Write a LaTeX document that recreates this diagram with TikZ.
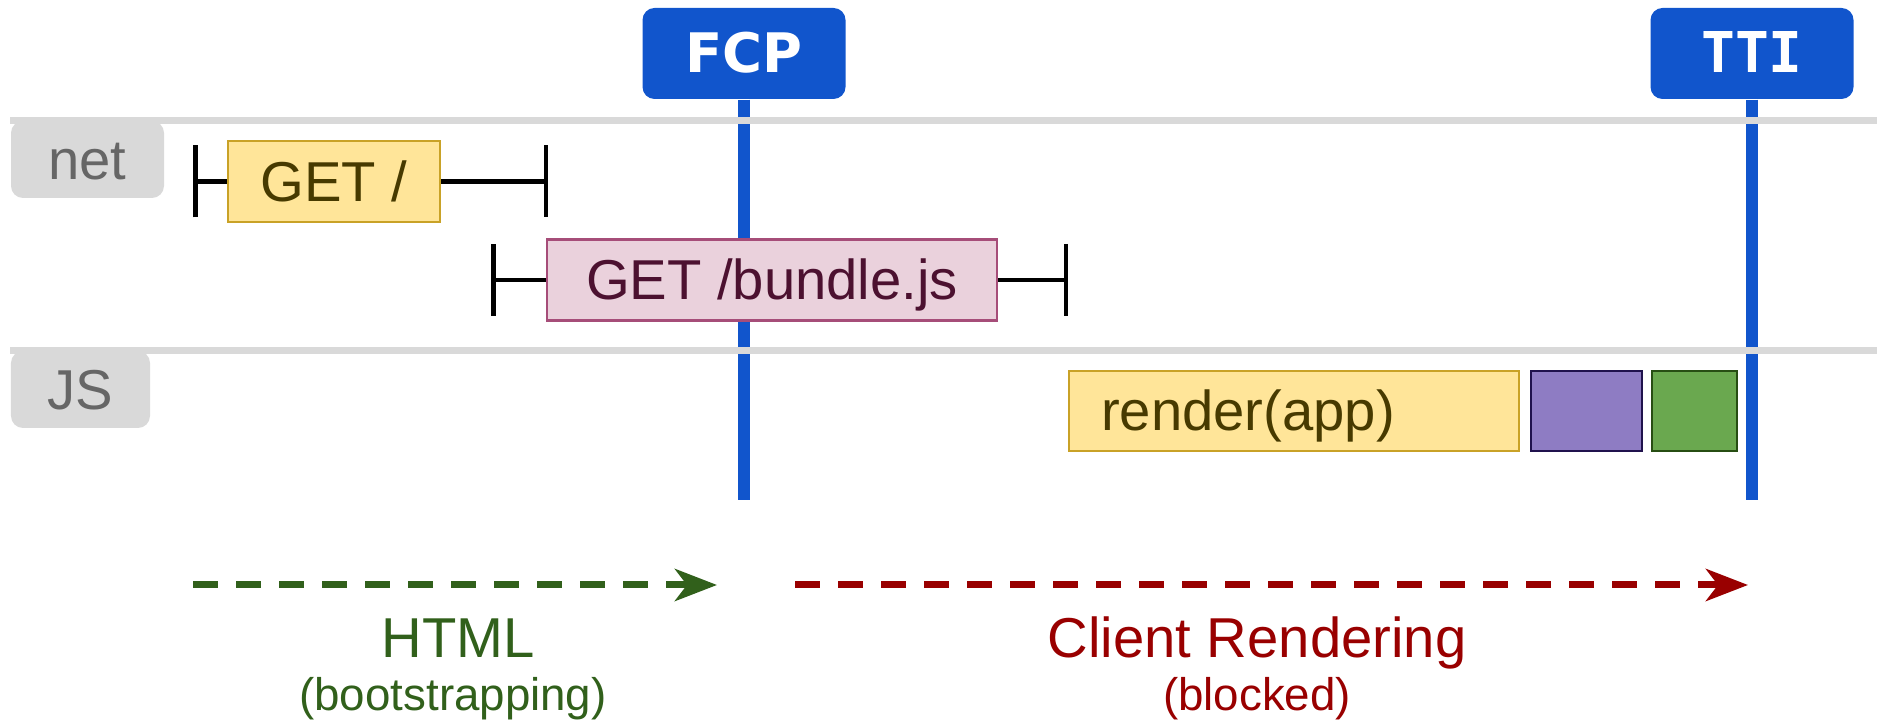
\documentclass[tikz,border=0pt]{standalone}
\usepackage{fontspec}
\setmainfont{Liberation Sans}
\newfontfamily\markfont{DejaVu Sans}
\newfontfamily\markmono{DejaVu Sans Mono}
\usetikzlibrary{arrows.meta,positioning}

\definecolor{markblue}{HTML}{1155CC}
\definecolor{lanegray}{HTML}{D9D9D9}
\definecolor{labelgray}{HTML}{666666}
\definecolor{yellowfill}{HTML}{FFE599}
\definecolor{yellowline}{HTML}{C9A227}
\definecolor{yellowtext}{HTML}{473A00}
\definecolor{pinkfill}{HTML}{EAD1DC}
\definecolor{pinkline}{HTML}{A64D79}
\definecolor{pinktext}{HTML}{4C1130}
\definecolor{purplefill}{HTML}{8E7CC3}
\definecolor{purpleline}{HTML}{20124D}
\definecolor{greenfill}{HTML}{6AA84F}
\definecolor{greenline}{HTML}{274E13}
\definecolor{htmlgreen}{HTML}{31601B}
\definecolor{clientred}{HTML}{990000}

\tikzset{reqbar/.tip={Bar[width=0.72cm]}}

\begin{document}
\begin{tikzpicture}[
  every node/.style={font=\fontsize{16}{19}\selectfont},
  lane/.style={draw=lanegray, line width=0.07cm},
  lanetab/.style={fill=lanegray, text=labelgray, rounded corners=0.12cm, inner sep=0pt,
    minimum height=0.77cm, text height=0.40cm, text depth=0cm},
  marker/.style={fill=markblue, text=white, rounded corners=0.12cm, inner sep=0pt,
    minimum width=2.03cm, minimum height=0.91cm, text height=0.39cm, text depth=0cm,
    font=\markfont\bfseries\fontsize{15.5}{18}\selectfont},
  markline/.style={draw=markblue, line width=0.12cm},
  req/.style={line width=0.045cm},
  box/.style={draw, line width=0.025cm, inner sep=0pt, minimum height=0.81cm,
    text height=0.40cm, text depth=0cm},
  dasharrow/.style={line width=0.07cm, dash pattern=on 0.25cm off 0.18cm,
    -{Stealth[length=0.42cm, width=0.32cm, inset=0.12cm]}},
  sub/.style={anchor=base, font=\fontsize{13}{16}\selectfont}
]
\useasboundingbox (0,0) rectangle (18.77,-7.23);

\node[marker] (fcp) at (7.44,-0.535) {FCP};
\node[marker, font=\markmono\bfseries\fontsize{16}{18}\selectfont] (tti) at (17.52,-0.535) {TTI};
\coordinate (fcp_end) at (7.44,-5.00);
\coordinate (tti_end) at (17.52,-5.00);
\draw[markline] (fcp.south) -- (fcp_end);
\draw[markline] (tti.south) -- (tti_end);

\node[lanetab, minimum width=1.53cm] (net) at (0.875,-1.595) {net};
\node[lanetab, minimum width=1.39cm] (js) at (0.805,-3.895) {JS};
\coordinate (right_edge) at (18.77,0);
\draw[lane] (net.north west) -- (net.north west -| right_edge);
\draw[lane] (js.north west) -- (js.north west -| right_edge);

\node[box, fill=yellowfill, draw=yellowline, text=yellowtext, minimum width=2.12cm]
  (get) at (3.34,-1.815) {GET /};
\coordinate (get_start) at (1.93,-1.815);
\coordinate (get_end) at (5.48,-1.815);
\draw[req, reqbar-] (get_start) -- (get.west);
\draw[req, -reqbar] (get.east) -- (get_end);

\node[box, fill=pinkfill, draw=pinkline, text=pinktext, minimum width=4.50cm]
  (bundle) at (7.72,-2.80) {GET /bundle.js};
\coordinate (bundle_start) at (4.91,-2.80);
\coordinate (bundle_end) at (10.68,-2.80);
\draw[req, reqbar-] (bundle_start) -- (bundle.west);
\draw[req, -reqbar] (bundle.east) -- (bundle_end);

\node[box, fill=yellowfill, draw=yellowline, text=yellowtext, minimum width=4.50cm,
  minimum height=0.80cm, text width=3.86cm, align=left] (render) at (12.94,-4.11) {render(app)};
\node[box, fill=purplefill, draw=purpleline, minimum width=1.11cm, minimum height=0.80cm]
  (js_purple) at (15.865,-4.11) {};
\node[box, fill=greenfill, draw=greenline, minimum width=0.85cm, minimum height=0.80cm]
  (js_green) at (16.945,-4.11) {};

\coordinate (html_start) at (1.93,-5.85);
\coordinate (html_end) at (7.17,-5.85);
\draw[dasharrow, htmlgreen] (html_start) -- (html_end);
\node[anchor=base, text=htmlgreen] (html) at (4.58,-6.58) {HTML};
\node[sub, text=htmlgreen] (html_sub) at (4.53,-7.11) {(bootstrapping)};

\coordinate (client_start) at (7.95,-5.85);
\coordinate (client_end) at (17.48,-5.85);
\draw[dasharrow, clientred] (client_start) -- (client_end);
\node[anchor=base, text=clientred] (client) at (12.57,-6.58) {Client Rendering};
\node[sub, text=clientred] (client_sub) at (12.57,-7.11) {(blocked)};
\end{tikzpicture}
\end{document}
